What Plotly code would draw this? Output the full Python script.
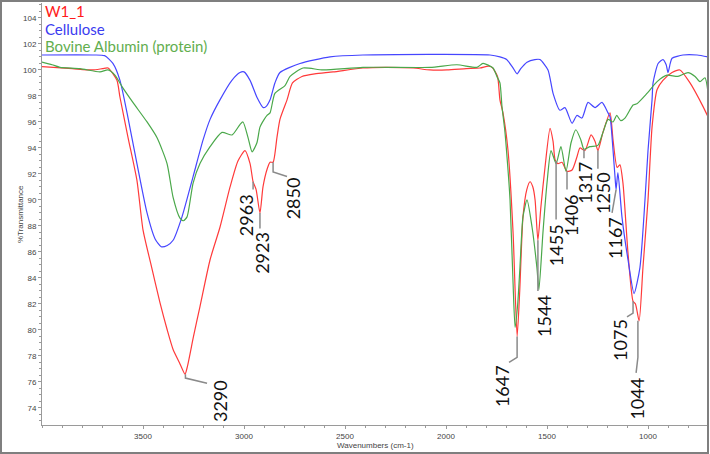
import plotly.graph_objects as go

# wavenumber (cm-1) / %T
red_w = [4000, 3850, 3750, 3700, 3673, 3629, 3614, 3574, 3530, 3500, 3460, 3416, 3380, 3351,
         3320, 3292, 3280, 3250, 3218, 3168, 3119, 3069, 3030, 2995, 2970, 2955, 2940, 2921,
         2906, 2885, 2871, 2856, 2837, 2822, 2787, 2760, 2713, 2650, 2559, 2411, 2300, 2163,
         2080, 1995, 1900, 1832, 1790, 1772, 1745, 1733, 1718, 1693, 1668, 1648, 1635, 1619,
         1600, 1584, 1570, 1559, 1545, 1530, 1510, 1485, 1470, 1460, 1446, 1426, 1401, 1376,
         1352, 1337, 1312, 1282, 1262, 1248, 1223, 1188, 1173, 1153, 1139, 1124, 1099, 1074,
         1062, 1044, 1025, 1000, 980, 955, 926, 881, 842, 792, 728, 703]
red_t = [100.25, 100.1, 100.0, 100.1, 100.15, 99.2, 97.9, 94.8, 91.5, 87.7, 85.0, 82.1, 80.0, 78.5,
         77.5, 76.6, 77.2, 79.5, 81.8, 85.4, 87.9, 91.0, 93.0, 93.8, 92.8, 91.4, 90.8, 89.0,
         91.0, 92.4, 92.9, 92.9, 94.8, 96.2, 97.7, 99.0, 99.5, 99.7, 99.85, 100.15, 100.2, 100.15,
         100.0, 100.0, 100.1, 100.15, 100.3, 100.2, 99.5, 97.7, 96.7, 93.8, 87.5, 79.5, 83.0, 88.7,
         90.8, 91.4, 91.0, 90.0, 86.9, 89.5, 92.5, 95.5, 94.5, 93.1, 92.8, 92.9, 92.2, 92.3,
         93.3, 94.0, 93.8, 95.0, 94.5, 93.8, 95.2, 96.7, 94.6, 92.5, 92.7, 91.3, 85.9, 82.2,
         82.0, 80.7, 84.8, 90.0, 95.6, 98.5, 99.2, 99.8, 100.0, 99.0, 97.2, 96.4]

blue_w = [4000, 3750, 3690, 3649, 3614, 3579, 3530, 3480, 3440, 3410, 3380, 3351, 3307, 3252,
          3203, 3168, 3119, 3060, 3020, 3000, 2970, 2936, 2905, 2890, 2871, 2847, 2822, 2723,
          2574, 2411, 1782, 1733, 1700, 1670, 1648, 1630, 1599, 1560, 1535, 1495, 1470, 1436,
          1411, 1376, 1352, 1327, 1297, 1262, 1228, 1198, 1188, 1173, 1162, 1158, 1149, 1129,
          1099, 1069, 1040, 1015, 1000, 980, 975, 950, 926, 910, 901, 890, 881, 827, 757, 703]
blue_t = [101.15, 101.15, 101.1, 100.5, 99.2, 96.7, 92.8, 89.0, 87.0, 86.4, 86.5, 86.9, 88.7, 91.8,
          94.6, 96.2, 97.7, 99.2, 99.8, 99.85, 99.2, 97.9, 97.1, 97.2, 97.7, 99.0, 99.8, 100.5,
          101.0, 101.15, 101.15, 101.0, 100.8, 100.2, 99.7, 100.1, 100.6, 100.8, 100.8, 100.0, 98.2, 96.9,
          97.1, 95.9, 96.5, 96.3, 97.5, 97.1, 97.5, 96.7, 96.4, 93.8, 91.5, 90.8, 92.1, 88.7,
          85.4, 82.8, 84.8, 90.0, 93.8, 97.7, 99.0, 100.5, 100.8, 100.4, 99.8, 100.5, 100.9, 101.15, 101.15, 101.0]

green_w = [4000, 3950, 3911, 3812, 3713, 3673, 3639, 3599, 3550, 3480, 3431, 3381, 3351, 3317,
           3300, 3282, 3252, 3218, 3168, 3109, 3059, 3020, 3005, 2980, 2960, 2936, 2921, 2900,
           2886, 2871, 2847, 2797, 2772, 2708, 2609, 2411, 2079, 1946, 1847, 1817, 1767, 1748,
           1733, 1723, 1708, 1693, 1683, 1668, 1658, 1645, 1634, 1619, 1599, 1574, 1550, 1540,
           1520, 1500, 1480, 1455, 1431, 1406, 1381, 1357, 1332, 1317, 1287, 1248, 1223, 1198,
           1173, 1155, 1135, 1114, 1074, 1055, 1005, 955, 906, 852, 802, 767, 743, 718, 703]
green_t = [100.6, 100.4, 100.2, 100.1, 99.85, 100.0, 99.6, 98.6, 97.5, 96.0, 94.8, 92.8, 90.2, 88.6,
           88.4, 88.7, 91.3, 92.8, 94.1, 95.2, 95.0, 95.8, 96.0, 94.8, 93.7, 94.4, 95.6, 96.2,
           96.5, 96.7, 98.2, 98.8, 99.5, 100.15, 100.0, 100.2, 100.2, 100.4, 100.2, 100.5, 100.15, 99.5,
           99.0, 97.2, 95.2, 92.3, 90.0, 83.6, 80.2, 82.0, 84.8, 88.7, 90.0, 87.9, 84.8, 83.1,
           87.5, 91.3, 93.8, 92.8, 94.1, 92.2, 94.4, 95.4, 94.6, 93.9, 94.1, 94.2, 95.2, 96.2,
           96.0, 96.5, 96.1, 96.3, 97.3, 97.4, 98.2, 99.1, 99.6, 99.5, 99.8, 99.5, 99.1, 99.4, 98.3]

x_ticks = [3500, 3000, 2500, 2000, 1500, 1000]

# peak labels and their leader lines
peak_text = ["3290", "2963", "2923", "2850", "1647", "1544", "1455", "1406", "1317", "1250", "1167", "1075", "1044"]
peak_w = [3290, 2955, 2921, 2856, 1648, 1545, 1455, 1401, 1317, 1248, 1158, 1074, 1050]
peak_t = [76.6, 91.4, 89.0, 92.9, 79.5, 86.9, 93.0, 92.2, 93.9, 93.8, 90.8, 82.2, 80.7]
elbow_t = [76.3, 90.8, 87.8, 92.15, 77.9, 83.0, 88.5, 90.8, 93.2, 92.4, 90.8, 81.3, 77.9]
end_w = [3183, 2955, 2921, 2787, 1688, 1545, 1455, 1401, 1317, 1248, 1178, 1104, 1059]
end_t = [75.9, 90.8, 87.8, 91.8, 77.5, 83.0, 88.5, 90.8, 93.2, 92.4, 89.0, 81.0, 76.7]
label_w = [3119, 2990, 2911, 2757, 1723, 1515, 1455, 1381, 1312, 1223, 1163, 1139, 1054]
label_t = [76.3, 90.6, 87.7, 91.9, 77.45, 82.85, 88.3, 90.6, 93.1, 92.3, 88.85, 81.0, 76.5]

series = [
    ("W1_1", red_w, red_t, "#ff3a3a", "#ff1a1a"),
    ("Cellulose", blue_w, blue_t, "#4646ff", "#3b3bf0"),
    ("Bovine Albumin (protein)", green_w, green_t, "#4aa84a", "#62ae4e"),
]

fig = go.Figure()

for name, w, t, col, _ in series:
    fig.add_trace(go.Scatter(x=w, y=t, mode="lines", name=name,
                             line=dict(color=col, width=1.2, shape="spline", smoothing=0.6),
                             showlegend=False))

# leader lines + rotated peak labels
for i in range(len(peak_text)):
    fig.add_shape(type="path",
                  path=f"M {peak_w[i]},{peak_t[i]} L {peak_w[i]},{elbow_t[i]} L {end_w[i]},{end_t[i]}",
                  xref="x", yref="y", line=dict(color="#8a8a8a", width=1.5))
    fig.add_annotation(x=label_w[i], y=label_t[i], text=peak_text[i], textangle=-90,
                       showarrow=False, xanchor="center", yanchor="top",
                       font=dict(family="Lato", size=18, color="#111111"))

# coloured series names, top-left
for k, (name, _, _, _, tcol) in enumerate(series):
    fig.add_annotation(x=0.002, y=(425 - (11 + 17.5 * k)) / 422, xref="paper", yref="paper",
                       text=name, showarrow=False, xanchor="left", yanchor="middle",
                       font=dict(family="Lato", size=15, color=tcol))

# axis titles
fig.add_annotation(x=-22 / 666, y=0.5, xref="paper", yref="paper", text="%Transmittance",
                   textangle=-90, showarrow=False, xanchor="center", yanchor="middle",
                   font=dict(size=8, color="#444444"))
fig.add_annotation(x=333 / 666, y=-21 / 422, xref="paper", yref="paper", text="Wavenumbers (cm-1)",
                   showarrow=False, xanchor="center", yanchor="middle",
                   font=dict(size=8, color="#444444"))

# outer frame
fig.add_shape(type="rect", xref="paper", yref="paper",
              x0=-41 / 666, x1=666 / 666, y0=-28 / 422, y1=424 / 422,
              line=dict(color="#7f7f7f", width=2))

fig.update_layout(
    width=710, height=454,
    margin=dict(l=42, r=2, t=3, b=29, autoexpand=False),
    plot_bgcolor="white", paper_bgcolor="white",
    font=dict(family="Liberation Sans", size=8, color="#444444"),
)
fig.update_xaxes(range=[4000, 703], showgrid=False, zeroline=False,
                 showline=True, linecolor="#9a9a9a", linewidth=1, automargin=False,
                 tickmode="array", tickvals=x_ticks, ticks="outside", ticklen=3,
                 tickcolor="#9a9a9a",
                 minor=dict(tickmode="linear", tick0=0, dtick=100, ticks="outside",
                            ticklen=2, tickcolor="#9a9a9a"))
fig.update_yaxes(range=[72.69, 105.15], showgrid=False, zeroline=False,
                 showline=True, linecolor="#9a9a9a", linewidth=1, automargin=False,
                 tickmode="linear", tick0=74, dtick=2, ticks="outside", ticklen=3,
                 tickcolor="#9a9a9a",
                 minor=dict(dtick=0.5, ticks="outside", ticklen=2, tickcolor="#9a9a9a"))

fig.write_html("out.html", config={"displayModeBar": False},
               post_script="document.body.style.margin='0';")
